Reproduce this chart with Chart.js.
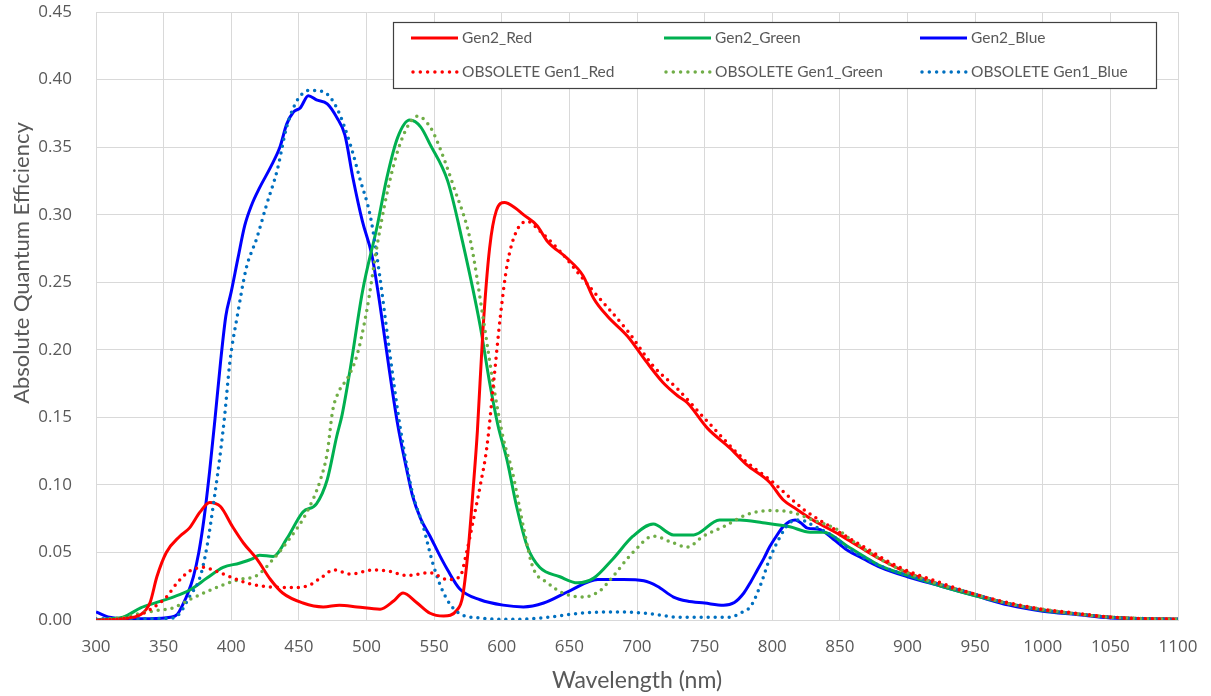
<!DOCTYPE html>
<html>
<head>
<meta charset="utf-8">
<script src="https://cdn.jsdelivr.net/npm/chart.js@4.4.0/dist/chart.umd.min.js"></script>
<style>
  html, body { margin: 0; padding: 0; background: #fff; }
  #wrap { width: 1211px; height: 696px; }
</style>
</head>
<body>
<div id="wrap"><canvas id="chart"></canvas></div>
<script>
// wavelength (nm) / absolute QE readings per curve
const gen2RedNm = [300, 320, 333, 340, 345, 352, 362, 369, 377, 384, 392, 401, 409, 419, 429, 438, 453, 468, 480, 493, 510, 520, 527, 537, 547, 557, 567, 571, 575, 579, 582, 586, 591, 596, 602, 610, 616, 626, 634, 648, 660, 668, 678, 693, 707, 719, 730, 737, 752, 769, 781, 798, 808, 818, 830, 850, 868, 880, 900, 925, 950, 975, 1000, 1025, 1050, 1075, 1100];
const gen2RedQE = [0, 0.001, 0.004, 0.013, 0.032, 0.05, 0.062, 0.068, 0.08, 0.087, 0.084, 0.069, 0.057, 0.045, 0.03, 0.02, 0.0126, 0.0097, 0.011, 0.0097, 0.008, 0.014, 0.02, 0.013, 0.005, 0.003, 0.0074, 0.017, 0.05, 0.099, 0.14, 0.213, 0.275, 0.303, 0.309, 0.305, 0.3, 0.292, 0.28, 0.268, 0.255, 0.238, 0.225, 0.21, 0.191, 0.176, 0.166, 0.161, 0.142, 0.127, 0.115, 0.102, 0.089, 0.082, 0.074, 0.063, 0.052, 0.045, 0.035, 0.026, 0.019, 0.012, 0.0075, 0.0045, 0.002, 0.001, 0.0005];

const gen2GreenNm = [300, 310, 320, 333, 345, 357, 369, 382, 394, 406, 415, 421, 431, 441, 453, 463, 471, 478, 482, 488, 497, 508, 515, 523, 532, 540, 547, 560, 571, 584, 591, 597, 604, 611, 619, 628, 643, 656, 668, 682, 697, 712, 727, 742, 761, 776, 793, 813, 828, 838, 855, 868, 880, 900, 925, 950, 975, 1000, 1025, 1050, 1075, 1100];
const gen2GreenQE = [0, 0.001, 0.002, 0.009, 0.013, 0.017, 0.022, 0.031, 0.039, 0.042, 0.045, 0.048, 0.047, 0.06, 0.08, 0.086, 0.104, 0.136, 0.152, 0.186, 0.243, 0.292, 0.327, 0.357, 0.37, 0.365, 0.352, 0.325, 0.28, 0.218, 0.176, 0.145, 0.118, 0.084, 0.054, 0.039, 0.032, 0.0275, 0.031, 0.045, 0.062, 0.071, 0.063, 0.063, 0.074, 0.074, 0.072, 0.069, 0.065, 0.065, 0.055, 0.047, 0.04, 0.033, 0.025, 0.018, 0.012, 0.007, 0.0045, 0.002, 0.001, 0.0005];

const gen2BlueNm = [300, 310, 320, 340, 355, 360, 364, 368, 372, 376, 380, 384, 388, 392, 396, 400, 405, 410, 415, 421, 429, 436, 441, 446, 451, 457, 463, 471, 478, 484, 490, 497, 504, 510, 517, 523, 530, 534, 540, 547, 554, 560, 569, 584, 601, 616, 631, 651, 671, 690, 705, 715, 727, 737, 750, 764, 772, 779, 784, 789, 794, 798, 803, 808, 813, 817, 821, 826, 835, 845, 855, 868, 880, 900, 925, 950, 975, 1000, 1025, 1050, 1075, 1100];
const gen2BlueQE = [0.006, 0.002, 0.001, 0.001, 0.002, 0.004, 0.011, 0.02, 0.032, 0.05, 0.076, 0.11, 0.149, 0.19, 0.225, 0.243, 0.268, 0.292, 0.307, 0.32, 0.335, 0.35, 0.367, 0.376, 0.379, 0.388, 0.385, 0.382, 0.372, 0.359, 0.327, 0.295, 0.27, 0.233, 0.184, 0.145, 0.11, 0.092, 0.075, 0.062, 0.048, 0.037, 0.023, 0.015, 0.011, 0.0097, 0.0126, 0.022, 0.03, 0.03, 0.029, 0.025, 0.017, 0.014, 0.0125, 0.011, 0.013, 0.02, 0.028, 0.037, 0.046, 0.054, 0.062, 0.069, 0.073, 0.074, 0.072, 0.068, 0.067, 0.06, 0.052, 0.045, 0.039, 0.032, 0.025, 0.018, 0.011, 0.0065, 0.004, 0.0015, 0.0008, 0.0005];

const gen1RedNm = [300, 320, 333, 345, 352, 360, 369, 379, 389, 399, 411, 424, 443, 456, 466, 476, 488, 505, 517, 530, 547, 560, 569, 574, 579, 584, 589, 594, 599, 604, 611, 619, 628, 643, 658, 668, 693, 712, 730, 752, 781, 798, 806, 823, 843, 868, 892, 929, 950, 978, 1000, 1025, 1052, 1075, 1100];
const gen1RedQE = [0, 0.001, 0.004, 0.011, 0.017, 0.0275, 0.036, 0.039, 0.036, 0.032, 0.0275, 0.025, 0.024, 0.025, 0.031, 0.037, 0.034, 0.037, 0.036, 0.033, 0.035, 0.03, 0.032, 0.05, 0.074, 0.099, 0.128, 0.176, 0.225, 0.263, 0.288, 0.295, 0.288, 0.273, 0.255, 0.243, 0.214, 0.188, 0.171, 0.147, 0.117, 0.104, 0.097, 0.082, 0.069, 0.054, 0.04, 0.026, 0.019, 0.012, 0.008, 0.005, 0.002, 0.001, 0.0005];

const gen1GreenNm = [300, 320, 333, 345, 357, 369, 382, 394, 406, 419, 431, 443, 456, 466, 471, 475, 480, 486, 493, 500, 508, 515, 523, 532, 538, 547, 552, 564, 577, 586, 594, 601, 608, 616, 623, 634, 645, 660, 673, 682, 697, 712, 727, 737, 749, 764, 781, 798, 813, 830, 848, 860, 880, 900, 925, 950, 975, 1000, 1025, 1050, 1075, 1100];
const gen1GreenQE = [0, 0.002, 0.005, 0.007, 0.009, 0.015, 0.021, 0.026, 0.03, 0.033, 0.045, 0.06, 0.08, 0.104, 0.124, 0.155, 0.17, 0.179, 0.196, 0.228, 0.278, 0.315, 0.347, 0.368, 0.373, 0.365, 0.355, 0.322, 0.28, 0.225, 0.173, 0.135, 0.109, 0.069, 0.039, 0.0275, 0.02, 0.017, 0.022, 0.032, 0.05, 0.062, 0.057, 0.054, 0.062, 0.069, 0.078, 0.081, 0.08, 0.074, 0.067, 0.058, 0.045, 0.035, 0.026, 0.019, 0.012, 0.008, 0.0045, 0.002, 0.001, 0.0005];

const gen1BlueNm = [300, 320, 340, 357, 362, 369, 377, 382, 387, 392, 395, 399, 405, 411, 419, 426, 434, 441, 449, 458, 468, 478, 488, 495, 503, 510, 517, 525, 534, 542, 549, 557, 567, 584, 608, 634, 658, 682, 707, 732, 769, 776, 784, 791, 798, 806, 813, 821, 830, 845, 855, 868, 880, 900, 925, 950, 975, 1000, 1025, 1050, 1075, 1100];
const gen1BlueQE = [0.001, 0.001, 0.001, 0.0015, 0.005, 0.017, 0.032, 0.054, 0.087, 0.124, 0.15, 0.191, 0.228, 0.26, 0.283, 0.307, 0.333, 0.365, 0.385, 0.392, 0.391, 0.379, 0.352, 0.327, 0.298, 0.253, 0.199, 0.142, 0.094, 0.069, 0.042, 0.02, 0.006, 0.0015, 0.0005, 0.002, 0.005, 0.006, 0.005, 0.002, 0.002, 0.005, 0.01, 0.025, 0.045, 0.062, 0.072, 0.074, 0.07, 0.062, 0.054, 0.046, 0.04, 0.033, 0.026, 0.019, 0.012, 0.0075, 0.0045, 0.002, 0.001, 0.0005];

const seriesNames = ['Gen2_Red', 'Gen2_Green', 'Gen2_Blue', 'OBSOLETE Gen1_Red', 'OBSOLETE Gen1_Green', 'OBSOLETE Gen1_Blue'];
const seriesColors = ['#ff0000', '#00b050', '#0000ff', '#ff0000', '#70ad47', '#0070c0'];
const yTitle = 'Absolute Quantum Efficiency';
const xTitle = 'Wavelength (nm)';

const textColor = '#595959';
const gridColor = '#d9d9d9';

function pts(xs, ys) {
    return xs.map((x, i) => ({ x: x, y: ys[i] }));
}

function solid(i, xs, ys) {
    return {
        label: seriesNames[i],
        data: pts(xs, ys),
        borderColor: seriesColors[i],
        backgroundColor: seriesColors[i],
        borderWidth: 3,
        pointRadius: 0,
        cubicInterpolationMode: 'monotone',
        fill: false
    };
}

function dotted(i, xs, ys) {
    const d = solid(i, xs, ys);
    d.borderWidth = 3.5;
    d.borderDash = [0, 7];
    d.borderCapStyle = 'round';
    d.dotted = true;
    return d;
}

// boxed 3 x 2 legend inside the plot + y title placed a bit above centre, like the original
const boxLegend = {
    id: 'boxLegend',
    afterDatasetsDraw(chart) {
        const ctx = chart.ctx;
        const area = chart.chartArea;
        const left = area.left + 297, top = area.top + 10;
        const w = 763, h = 66;
        ctx.save();
        ctx.fillStyle = '#ffffff';
        ctx.fillRect(left, top, w, h);
        ctx.strokeStyle = '#404040';
        ctx.lineWidth = 1.2;
        ctx.strokeRect(left + 0.5, top + 0.5, w, h);
        const cols = [18, 271, 527];
        const rows = [16, 50];
        ctx.font = '15.5px Lato';
        ctx.textBaseline = 'middle';
        chart.data.datasets.forEach((ds) => {
            const idx = seriesNames.indexOf(ds.label);
            const cx = left + cols[idx % 3];
            const cy = top + rows[Math.floor(idx / 3)];
            ctx.beginPath();
            ctx.strokeStyle = ds.borderColor;
            ctx.lineWidth = ds.borderWidth;
            ctx.lineCap = ds.dotted ? 'round' : 'butt';
            ctx.setLineDash(ds.dotted ? [0, 7.3] : []);
            ctx.moveTo(ds.dotted ? cx + 2 : cx, cy);
            ctx.lineTo(cx + 47, cy);
            ctx.stroke();
            ctx.setLineDash([]);
            ctx.fillStyle = textColor;
            ctx.fillText(ds.label, cx + 51, cy);
        });

        ctx.translate(22, area.top + 251);
        ctx.rotate(-Math.PI / 2);
        ctx.font = '22px Lato';
        ctx.textAlign = 'center';
        ctx.fillText(yTitle, 0, 0);
        ctx.restore();
    }
};

const data = {
    datasets: [
        dotted(3, gen1RedNm, gen1RedQE),
        dotted(4, gen1GreenNm, gen1GreenQE),
        dotted(5, gen1BlueNm, gen1BlueQE),
        solid(0, gen2RedNm, gen2RedQE),
        solid(1, gen2GreenNm, gen2GreenQE),
        solid(2, gen2BlueNm, gen2BlueQE)
    ]
};

const config = {
    type: 'line',
    data,
    plugins: [boxLegend],
    options: {
        responsive: true,
        maintainAspectRatio: false,
        animation: false,
        layout: {
            padding: { top: 12, right: 33, left: 0, bottom: 0 }
        },
        plugins: {
            legend: false,
            tooltip: false
        },
        scales: {
            x: {
                type: 'linear',
                min: 300,
                max: 1100,
                ticks: {
                    stepSize: 50,
                    color: textColor,
                    padding: 17,
                    maxRotation: 0,
                    font: { family: 'Open Sans', size: 17 },
                    callback: (v) => String(v)
                },
                grid: { color: gridColor, drawTicks: false },
                border: { color: gridColor },
                title: {
                    display: true,
                    text: xTitle,
                    color: textColor,
                    padding: { top: 0, bottom: 2 },
                    font: { family: 'Lato', size: 23 }
                },
                afterFit: (s) => {
                    s.height = 76;
                    s.paddingLeft = 0;
                    s.paddingRight = 0;
                }
            },
            y: {
                min: 0,
                max: 0.45,
                ticks: {
                    stepSize: 0.05,
                    color: textColor,
                    padding: 24,
                    font: { family: 'Open Sans', size: 17 },
                    callback: (v) => v.toFixed(2)
                },
                grid: { color: gridColor, drawTicks: false },
                border: { color: gridColor },
                afterFit: (s) => {
                    s.width = 96;
                    s.paddingTop = 0;
                    s.paddingBottom = 0;
                }
            }
        }
    }
};

var myChart = new Chart(
    document.getElementById('chart'),
    config
);
</script>
</body>
</html>
